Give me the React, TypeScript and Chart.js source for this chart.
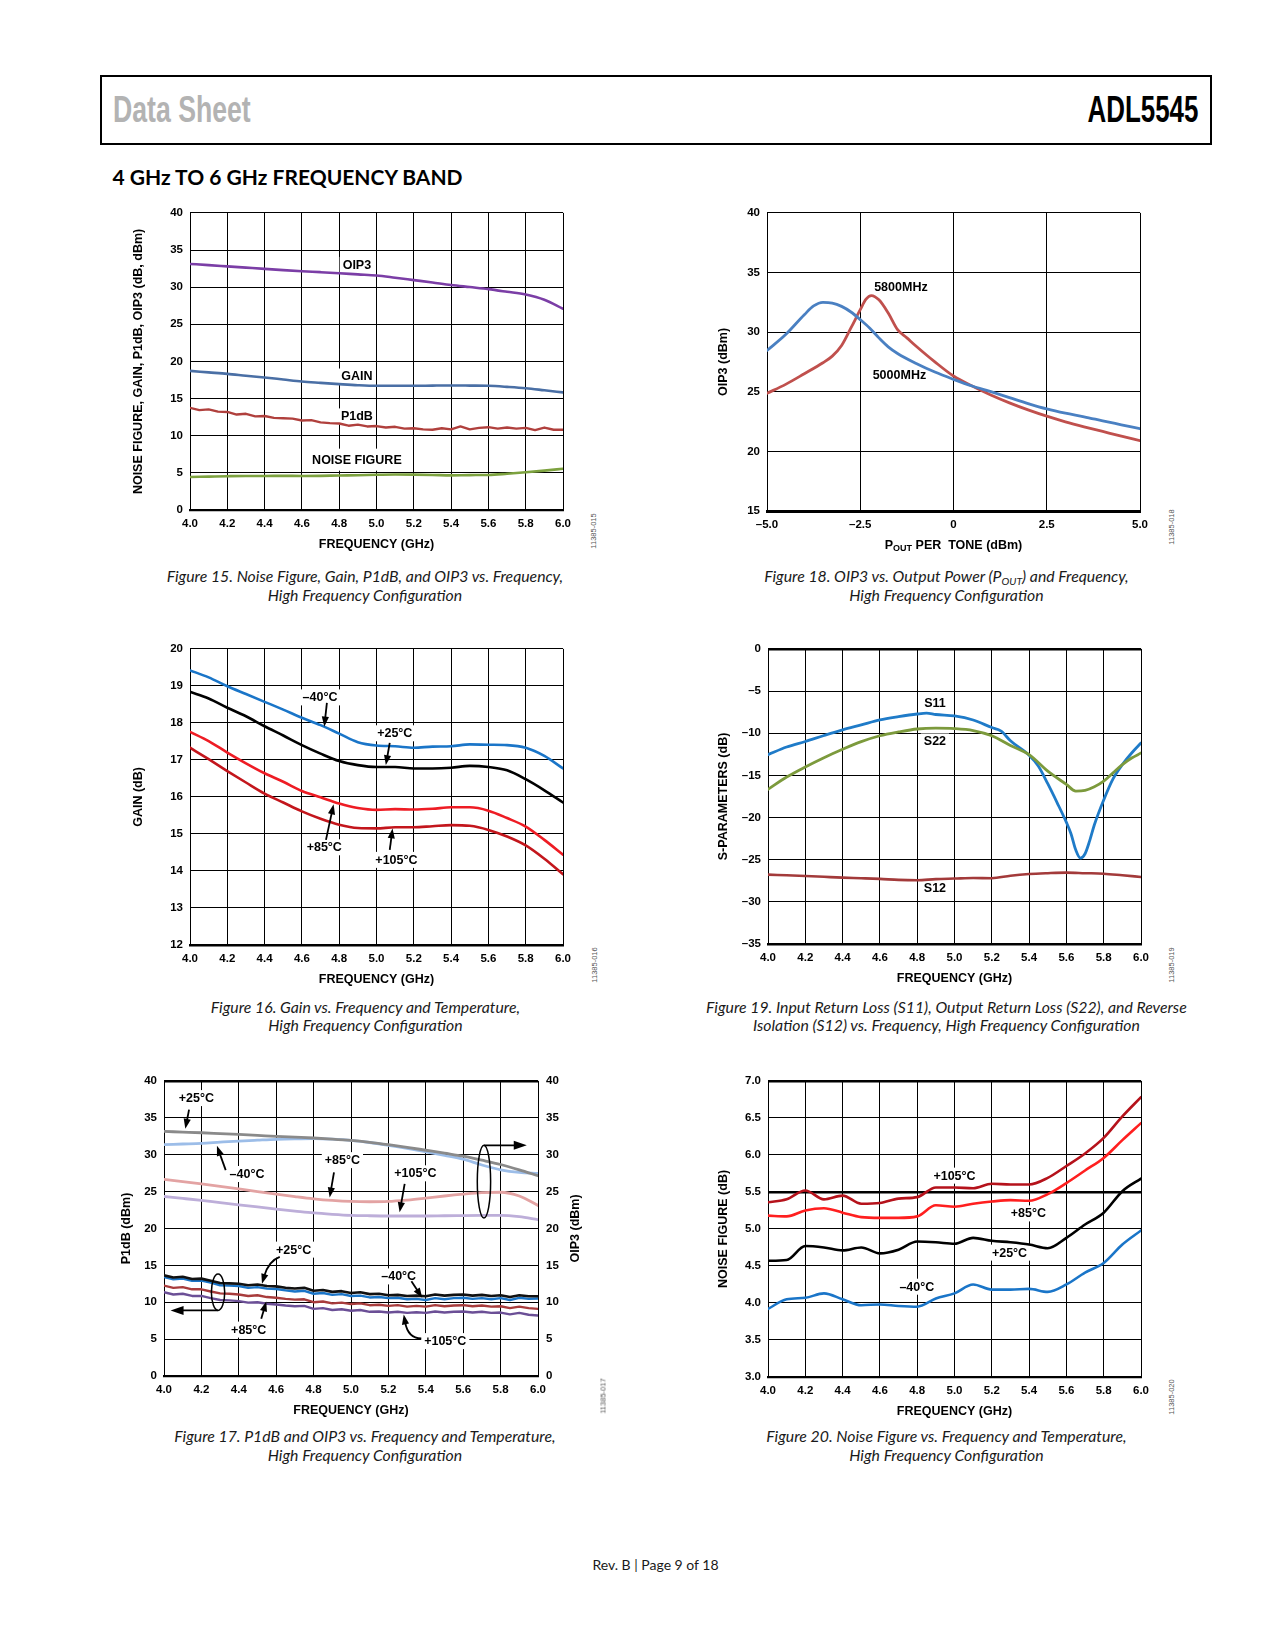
import React, { useEffect, useRef } from "react";
import { Chart, registerables } from "chart.js";

Chart.register(...registerables);

const SANS = '"Liberation Sans", Arial, Helvetica, sans-serif';
const MYRIAD = 'Lato, "Open Sans", sans-serif';
const NARROW = '"Liberation Sans Narrow", "Liberation Sans", sans-serif';

// ---------------- shared axis values ----------------
const FREQ_TICKS = [4.0, 4.2, 4.4, 4.6, 4.8, 5.0, 5.2, 5.4, 5.6, 5.8, 6.0];
const F21 = [4.0, 4.1, 4.2, 4.3, 4.4, 4.5, 4.6, 4.7, 4.8, 4.9, 5.0, 5.1, 5.2, 5.3, 5.4, 5.5, 5.6, 5.7, 5.8, 5.9, 6.0];
const F41 = [
  4.0, 4.05, 4.1, 4.15, 4.2, 4.25, 4.3, 4.35, 4.4, 4.45, 4.5, 4.55, 4.6, 4.65, 4.7, 4.75, 4.8, 4.85, 4.9, 4.95,
  5.0, 5.05, 5.1, 5.15, 5.2, 5.25, 5.3, 5.35, 5.4, 5.45, 5.5, 5.55, 5.6, 5.65, 5.7, 5.75, 5.8, 5.85, 5.9, 5.95, 6.0,
];

// ---------------- Figure 15 ----------------
const F15_Y_TICKS = [0, 5, 10, 15, 20, 25, 30, 35, 40];
const F15_OIP3 = [33.13, 32.97, 32.8, 32.63, 32.46, 32.3, 32.15, 32.02, 31.88, 31.72, 31.57, 31.27, 30.95, 30.63, 30.3, 30.02, 29.74, 29.38, 29.0, 28.3, 27.1];
const F15_GAIN = [18.73, 18.53, 18.33, 18.08, 17.84, 17.57, 17.3, 17.12, 16.95, 16.8, 16.72, 16.72, 16.72, 16.75, 16.77, 16.75, 16.72, 16.58, 16.4, 16.12, 15.83];
const F15_P1DB = [
  13.75, 13.45, 13.55, 13.25, 13.2, 12.85, 12.95, 12.6, 12.65, 12.4, 12.35, 12.3, 12.05, 12.1, 11.8, 11.7, 11.65, 11.35, 11.5, 11.25,
  11.3, 11.1, 11.2, 10.95, 11.0, 10.85, 10.8, 11.0, 10.85, 11.25, 10.85, 11.05, 11.15, 10.95, 11.1, 10.95, 11.05, 10.75, 11.1, 10.8, 10.8,
];
const F15_NF = [4.45, 4.5, 4.55, 4.58, 4.58, 4.6, 4.58, 4.6, 4.65, 4.68, 4.75, 4.78, 4.76, 4.72, 4.66, 4.7, 4.72, 4.88, 5.08, 5.3, 5.55];

// ---------------- Figure 18 ----------------
const F18_X_TICKS = [-5, -2.5, 0, 2.5, 5];
const F18_Y_TICKS = [15, 20, 25, 30, 35, 40];
const F18_X_5000 = [-5, -4.5, -4, -3.75, -3.5, -3.25, -3, -2.75, -2.5, -2.25, -2, -1.75, -1.5, -1, -0.5, 0, 0.5, 1, 1.5, 2, 2.5, 3, 3.5, 4, 4.5, 5];
const F18_OIP3_5000 = [28.46, 29.8, 31.46, 32.2, 32.5, 32.44, 32.16, 31.69, 31.05, 30.35, 29.52, 28.77, 28.21, 27.37, 26.65, 26.04, 25.48, 25.01, 24.51, 24.01, 23.56, 23.2, 22.9, 22.56, 22.23, 21.9];
const F18_X_5800 = [-5, -4.5, -4, -3.5, -3.25, -3, -2.75, -2.5, -2.35, -2.2, -2, -1.75, -1.5, -1.25, -1, -0.5, 0, 0.5, 1, 1.5, 2, 2.5, 3, 3.5, 4, 4.5, 5];
const F18_OIP3_5800 = [24.87, 25.62, 26.51, 27.43, 27.99, 28.88, 30.35, 31.88, 32.75, 33.07, 32.71, 31.6, 30.21, 29.52, 28.82, 27.51, 26.32, 25.48, 24.73, 24.07, 23.48, 22.95, 22.48, 22.06, 21.67, 21.28, 20.9];

// ---------------- Figure 16 ----------------
const F16_Y_TICKS = [12, 13, 14, 15, 16, 17, 18, 19, 20];
const F16_GAIN_M40 = [19.42, 19.23, 18.99, 18.78, 18.57, 18.36, 18.14, 17.94, 17.71, 17.48, 17.39, 17.37, 17.33, 17.36, 17.37, 17.42, 17.41, 17.4, 17.33, 17.11, 16.77];
const F16_GAIN_25 = [18.84, 18.66, 18.41, 18.18, 17.91, 17.66, 17.4, 17.17, 16.97, 16.86, 16.81, 16.81, 16.77, 16.77, 16.79, 16.84, 16.81, 16.72, 16.48, 16.18, 15.85];
const F16_GAIN_85 = [17.76, 17.51, 17.2, 16.91, 16.64, 16.41, 16.16, 15.99, 15.82, 15.7, 15.65, 15.67, 15.66, 15.68, 15.72, 15.72, 15.63, 15.43, 15.2, 14.84, 14.44];
const F16_GAIN_105 = [17.33, 17.02, 16.7, 16.39, 16.09, 15.85, 15.61, 15.41, 15.25, 15.16, 15.15, 15.18, 15.18, 15.21, 15.24, 15.22, 15.11, 14.93, 14.69, 14.33, 13.91];

// ---------------- Figure 19 ----------------
const F19_Y_TICKS = [-35, -30, -25, -20, -15, -10, -5, 0];
const F19_X_S11 = [4.0, 4.1, 4.2, 4.3, 4.4, 4.5, 4.6, 4.7, 4.8, 4.85, 4.9, 5.0, 5.1, 5.2, 5.25, 5.3, 5.4, 5.45, 5.5, 5.55, 5.6, 5.625, 5.65, 5.675, 5.7, 5.725, 5.75, 5.8, 5.85, 5.9, 5.95, 6.0];
const F19_S11 = [-12.54, -11.64, -10.98, -10.27, -9.6, -9.02, -8.43, -8.04, -7.72, -7.62, -7.78, -7.95, -8.43, -9.33, -9.75, -10.9, -12.62, -13.92, -15.99, -18.23, -20.58, -21.95, -23.83, -24.81, -24.3, -22.74, -20.85, -17.91, -15.41, -13.72, -12.35, -11.17];
const F19_X_S22 = [4.0, 4.1, 4.2, 4.3, 4.4, 4.5, 4.6, 4.7, 4.8, 4.9, 5.0, 5.1, 5.2, 5.3, 5.4, 5.5, 5.6, 5.65, 5.7, 5.75, 5.8, 5.85, 5.9, 5.95, 6.0];
const F19_S22 = [-16.66, -15.2, -14.0, -12.9, -11.9, -11.0, -10.3, -9.85, -9.5, -9.4, -9.45, -9.68, -10.3, -11.45, -12.54, -14.5, -16.07, -16.86, -16.78, -16.35, -15.68, -14.7, -13.72, -12.94, -12.35];
const F19_S12 = [-26.77, -26.85, -26.93, -27.03, -27.13, -27.2, -27.28, -27.4, -27.44, -27.3, -27.24, -27.18, -27.2, -26.9, -26.7, -26.6, -26.54, -26.6, -26.66, -26.85, -27.05];

// ---------------- Figure 17 ----------------
const F17_Y_TICKS = [0, 5, 10, 15, 20, 25, 30, 35, 40];
const F17_OIP3_25 = [33.15, 33.06, 32.97, 32.86, 32.75, 32.62, 32.48, 32.37, 32.26, 32.12, 31.94, 31.68, 31.36, 31.0, 30.6, 30.2, 29.79, 29.25, 28.67, 27.95, 27.15];
const F17_OIP3_M40 = [31.36, 31.45, 31.54, 31.7, 31.85, 31.97, 32.08, 32.14, 32.17, 32.1, 31.94, 31.65, 31.27, 30.85, 30.38, 29.9, 29.39, 28.6, 27.95, 27.6, 27.47];
const F17_OIP3_85 = [26.66, 26.35, 26.03, 25.7, 25.36, 25.0, 24.65, 24.32, 24.02, 23.8, 23.66, 23.62, 23.66, 23.85, 24.11, 24.4, 24.65, 24.85, 24.91, 24.4, 23.12];
const F17_OIP3_105 = [24.33, 24.07, 23.8, 23.5, 23.21, 22.92, 22.63, 22.36, 22.1, 21.92, 21.78, 21.72, 21.69, 21.69, 21.69, 21.72, 21.74, 21.76, 21.78, 21.6, 21.2];
const F17_P1DB_25 = [
  13.65, 13.35, 13.45, 13.15, 13.2, 12.9, 12.6, 12.55, 12.5, 12.3, 12.4, 12.2, 12.15, 11.95, 11.85, 11.95, 11.55, 11.65, 11.4, 11.5,
  11.25, 11.35, 11.1, 11.15, 10.95, 11.0, 10.85, 10.9, 10.8, 11.05, 10.9, 11.0, 11.05, 10.9, 11.0, 10.85, 10.95, 10.7, 10.95, 10.8, 10.8,
];
const F17_P1DB_M40 = [
  13.4, 13.1, 13.2, 12.9, 12.95, 12.65, 12.3, 12.25, 12.2, 11.95, 12.05, 11.85, 11.8, 11.6, 11.45, 11.55, 11.15, 11.25, 11.0, 11.1,
  10.85, 10.9, 10.65, 10.7, 10.55, 10.6, 10.4, 10.45, 10.3, 10.55, 10.4, 10.55, 10.6, 10.45, 10.55, 10.4, 10.55, 10.3, 10.6, 10.45, 10.5,
];
const F17_P1DB_85 = [
  12.25, 11.95, 12.05, 11.75, 11.75, 11.45, 11.2, 11.15, 11.05, 10.85, 10.95, 10.7, 10.6, 10.45, 10.35, 10.4, 10.0, 10.1, 9.85, 9.95,
  9.75, 9.85, 9.6, 9.65, 9.5, 9.6, 9.4, 9.5, 9.4, 9.6, 9.45, 9.55, 9.6, 9.45, 9.55, 9.4, 9.45, 9.2, 9.4, 9.2, 9.1,
];
const F17_P1DB_105 = [
  11.35, 11.05, 11.15, 10.85, 10.85, 10.55, 10.3, 10.25, 10.15, 9.95, 10.0, 9.8, 9.7, 9.55, 9.45, 9.5, 9.1, 9.2, 8.95, 9.05,
  8.85, 8.95, 8.7, 8.75, 8.6, 8.7, 8.55, 8.65, 8.55, 8.75, 8.6, 8.7, 8.75, 8.6, 8.7, 8.55, 8.6, 8.35, 8.55, 8.3, 8.2,
];

// ---------------- Figure 20 ----------------
const F20_Y_TICKS = [3.0, 3.5, 4.0, 4.5, 5.0, 5.5, 6.0, 6.5, 7.0];
const F20_NF_105 = [5.36, 5.4, 5.52, 5.4, 5.45, 5.34, 5.35, 5.41, 5.43, 5.56, 5.56, 5.55, 5.61, 5.6, 5.6, 5.69, 5.85, 6.02, 6.23, 6.52, 6.78];
const F20_NF_85 = [5.18, 5.17, 5.25, 5.28, 5.22, 5.16, 5.15, 5.15, 5.17, 5.32, 5.3, 5.34, 5.37, 5.39, 5.38, 5.47, 5.62, 5.79, 5.96, 6.2, 6.43];
const F20_NF_25 = [4.57, 4.58, 4.77, 4.75, 4.71, 4.75, 4.67, 4.72, 4.83, 4.82, 4.8, 4.88, 4.84, 4.82, 4.79, 4.74, 4.88, 5.06, 5.22, 5.51, 5.68];
const F20_NF_M40 = [3.92, 4.05, 4.07, 4.13, 4.05, 3.97, 3.98, 3.96, 3.95, 4.06, 4.13, 4.25, 4.18, 4.18, 4.19, 4.15, 4.25, 4.41, 4.54, 4.79, 4.98];

// ---------------- helpers ----------------
const TICK_SIZE = 11.5;
const LABEL_SIZE = 12.5;

const fmt1 = (v: number) => v.toFixed(1);
const fmtInt = (v: number) => (v < 0 ? "\u2013" + Math.abs(v) : String(v));
const fmtDash1 = (v: number) => (v === 0 ? "0" : (v < 0 ? "\u2013" : "") + Math.abs(v).toFixed(1));

function line(xs: number[], ys: number[], color: string, width = 2.6, smooth = true) {
  return {
    data: xs.map((x, i) => ({ x, y: ys[i] })),
    borderColor: color,
    backgroundColor: color,
    borderWidth: width,
    pointRadius: 0,
    fill: false,
    tension: 0,
    cubicInterpolationMode: smooth ? "monotone" : "default",
    borderJoinStyle: "round",
    borderCapStyle: "round",
  };
}

type Note = { x: number; y: number; t: string; px?: number; py?: number };
type Arrow = { x1: number; y1: number; x2: number; y2: number; cx?: number; cy?: number; big?: boolean };
type Ell = { x: number; y: number; dx: number; dy: number };
type AxisSpec = { min: number; max: number; ticks: number[]; fmt: (v: number) => string; thick?: number[] };

type Spec = {
  left: number;
  top: number;
  w: number;
  h: number;
  R?: number;
  x: AxisSpec;
  y: AxisSpec;
  y2?: boolean;
  xBorder: number;
  xTitle?: string;
  yTitle: string;
  yTitleX: number;
  datasets: any[];
  notes?: Note[];
  arrows?: Arrow[];
  ellipses?: Ell[];
  extraDraw?: (chart: any, spec: Spec) => void;
};

const L = 80;
const T = 12;
const B = 48;

function drawArrow(ctx: CanvasRenderingContext2D, x1: number, y1: number, x2: number, y2: number, cx?: number, cy?: number, big?: boolean) {
  const hl = big ? 13 : 10;
  const hw = big ? 4.5 : 3.6;
  const fx = cx ?? x1;
  const fy = cy ?? y1;
  const ang = Math.atan2(y2 - fy, x2 - fx);
  const ux = Math.cos(ang);
  const uy = Math.sin(ang);
  const bx = x2 - ux * hl;
  const by = y2 - uy * hl;
  ctx.beginPath();
  ctx.moveTo(x1, y1);
  if (cx !== undefined && cy !== undefined) ctx.quadraticCurveTo(cx, cy, bx + ux * 2, by + uy * 2);
  else ctx.lineTo(bx + ux * 2, by + uy * 2);
  ctx.stroke();
  ctx.beginPath();
  ctx.moveTo(x2, y2);
  ctx.lineTo(bx - uy * hw, by + ux * hw);
  ctx.lineTo(bx + uy * hw, by - ux * hw);
  ctx.closePath();
  ctx.fill();
}

function makeNotesPlugin(spec: Spec) {
  return {
    id: "notes",
    beforeDatasetsDraw(chart: any) {
      const ctx = chart.ctx as CanvasRenderingContext2D;
      const xs = chart.scales.x;
      const ys = chart.scales.y;
      ctx.save();
      ctx.font = `bold ${LABEL_SIZE}px ${SANS}`;
      ctx.fillStyle = "#fff";
      for (const n of spec.notes || []) {
        const w = ctx.measureText(n.t).width;
        const px = xs.getPixelForValue(n.x);
        const py = ys.getPixelForValue(n.y);
        const padX = n.px ?? 3;
        const padY = n.py ?? 8;
        ctx.fillRect(px - w / 2 - padX, py - padY, w + 2 * padX, 2 * padY);
      }
      ctx.restore();
    },
    afterDatasetsDraw(chart: any) {
      const ctx = chart.ctx as CanvasRenderingContext2D;
      const xs = chart.scales.x;
      const ys = chart.scales.y;
      const X = (v: number) => xs.getPixelForValue(v);
      const Y = (v: number) => ys.getPixelForValue(v);
      ctx.save();
      ctx.font = `bold ${LABEL_SIZE}px ${SANS}`;
      ctx.fillStyle = "#000";
      ctx.textAlign = "center";
      ctx.textBaseline = "middle";
      for (const n of spec.notes || []) ctx.fillText(n.t, X(n.x), Y(n.y) + 0.5);
      ctx.strokeStyle = "#000";
      ctx.lineWidth = 1.5;
      for (const e of spec.ellipses || []) {
        const cx = X(e.x);
        const cy = Y(e.y);
        const rx = Math.abs(X(e.x + e.dx) - cx);
        const ry = Math.abs(Y(e.y + e.dy) - cy);
        ctx.beginPath();
        ctx.ellipse(cx, cy, rx, ry, 0, 0, Math.PI * 2);
        ctx.stroke();
      }
      ctx.lineWidth = 1.8;
      for (const a of spec.arrows || []) {
        drawArrow(
          ctx,
          X(a.x1),
          Y(a.y1),
          X(a.x2),
          Y(a.y2),
          a.cx !== undefined ? X(a.cx) : undefined,
          a.cy !== undefined ? Y(a.cy) : undefined,
          a.big
        );
      }
      ctx.restore();
    },
    afterDraw(chart: any) {
      if (spec.extraDraw) spec.extraDraw(chart, spec);
    },
  };
}

function axisFont(size: number) {
  return { family: SANS, size, weight: "bold" as const };
}

function buildConfig(spec: Spec) {
  const R = spec.R ?? 14;
  const cl = spec.left - L;
  const scales: any = {
    x: {
      type: "linear",
      min: spec.x.min,
      max: spec.x.max,
      afterBuildTicks: (s: any) => {
        s.ticks = spec.x.ticks.map((v) => ({ value: v }));
      },
      afterFit: (s: any) => {
        s.height = B;
      },
      ticks: {
        autoSkip: false,
        maxRotation: 0,
        minRotation: 0,
        padding: 7,
        color: "#000",
        font: axisFont(TICK_SIZE),
        callback: (v: any) => spec.x.fmt(Number(v)),
      },
      grid: { color: "#000", lineWidth: 1, drawTicks: false },
      border: { color: "#000", width: spec.xBorder },
      title: {
        display: !!spec.xTitle,
        text: spec.xTitle || "",
        color: "#000",
        font: axisFont(LABEL_SIZE),
        padding: { top: 0, bottom: B - 34.3 - LABEL_SIZE * 0.6 },
      },
    },
    y: {
      type: "linear",
      position: "left",
      min: spec.y.min,
      max: spec.y.max,
      afterBuildTicks: (s: any) => {
        s.ticks = spec.y.ticks.map((v) => ({ value: v }));
      },
      afterFit: (s: any) => {
        s.width = L;
      },
      ticks: {
        autoSkip: false,
        padding: 7,
        color: "#000",
        font: axisFont(TICK_SIZE),
        callback: (v: any) => spec.y.fmt(Number(v)),
      },
      grid: {
        color: "#000",
        drawTicks: false,
        lineWidth: (ctx: any) => ((spec.y.thick || []).some((t) => Math.abs(t - ctx.tick?.value) < 1e-9) ? 2.6 : 1),
      },
      border: { color: "#000", width: 1 },
      title: {
        display: true,
        text: spec.yTitle,
        color: "#000",
        font: axisFont(LABEL_SIZE),
        padding: { top: spec.yTitleX - cl - LABEL_SIZE * 0.6, bottom: 0 },
      },
    },
  };
  if (spec.y2) {
    scales.y2 = {
      type: "linear",
      position: "right",
      min: spec.y.min,
      max: spec.y.max,
      afterBuildTicks: (s: any) => {
        s.ticks = spec.y.ticks.map((v) => ({ value: v }));
      },
      afterFit: (s: any) => {
        s.width = R;
      },
      ticks: {
        autoSkip: false,
        padding: 8,
        color: "#000",
        font: axisFont(TICK_SIZE),
        callback: (v: any) => spec.y.fmt(Number(v)),
      },
      grid: { drawOnChartArea: false, drawTicks: false },
      border: { display: false },
    };
  }
  return {
    type: "line",
    data: { datasets: spec.datasets },
    options: {
      animation: false,
      responsive: false,
      maintainAspectRatio: false,
      devicePixelRatio: 1,
      events: [],
      parsing: true,
      layout: { padding: { left: 0, top: T, right: spec.y2 ? 0 : R, bottom: 0 } },
      plugins: { legend: { display: false }, tooltip: { enabled: false }, title: { display: false } },
      scales,
    },
    plugins: [makeNotesPlugin(spec)],
  };
}

function PlotCanvas({ spec }: { spec: Spec }) {
  const ref = useRef<HTMLCanvasElement | null>(null);
  const R = spec.R ?? 14;
  const cl = spec.left - L;
  const ct = spec.top - T;
  const cw = L + spec.w + R;
  const ch = T + spec.h + B;
  useEffect(() => {
    if (!ref.current) return;
    const chart = new Chart(ref.current, buildConfig(spec) as any);
    return () => chart.destroy();
  }, []);
  return (
    <canvas
      ref={ref}
      width={cw}
      height={ch}
      style={{ position: "absolute", left: cl, top: ct, width: cw, height: ch }}
    />
  );
}

// ---------------- chart specs ----------------
const freqX: AxisSpec = { min: 4.0, max: 6.0, ticks: FREQ_TICKS, fmt: fmt1 };

const fig15: Spec = {
  left: 190,
  top: 211,
  w: 374,
  h: 299,
  x: freqX,
  y: { min: 0, max: 40, ticks: F15_Y_TICKS, fmt: fmtInt },
  xBorder: 2.2,
  xTitle: "FREQUENCY (GHz)",
  yTitle: "NOISE FIGURE, GAIN, P1dB, OIP3 (dB, dBm)",
  yTitleX: 138.3,
  datasets: [
    line(F21, F15_NF, "#7da23f", 2.6),
    line(F41, F15_P1DB, "#b0403d", 2.4, false),
    line(F21, F15_GAIN, "#4a6fa5", 2.6),
    line(F21, F15_OIP3, "#7b3ea6", 2.6),
  ],
  notes: [
    { x: 4.895, y: 33.0, t: "OIP3" },
    { x: 4.895, y: 17.97, t: "GAIN" },
    { x: 4.895, y: 12.6, t: "P1dB" },
    { x: 4.895, y: 6.78, t: "NOISE FIGURE", px: 5, py: 11 },
  ],
};

const fig18: Spec = {
  left: 767,
  top: 211,
  w: 374,
  h: 300,
  x: { min: -5, max: 5, ticks: F18_X_TICKS, fmt: fmtDash1 },
  y: { min: 15, max: 40, ticks: F18_Y_TICKS, fmt: fmtInt },
  xBorder: 3,
  yTitle: "OIP3 (dBm)",
  yTitleX: 723.3,
  datasets: [line(F18_X_5000, F18_OIP3_5000, "#4a80c2", 2.8), line(F18_X_5800, F18_OIP3_5800, "#c0504d", 2.8)],
  notes: [
    { x: -1.41, y: 33.77, t: "5800MHz" },
    { x: -1.45, y: 26.37, t: "5000MHz" },
  ],
  extraDraw: (chart: any) => {
    const ctx = chart.ctx as CanvasRenderingContext2D;
    const area = chart.chartArea;
    const cy = area.bottom + 34.5;
    const cx = (area.left + area.right) / 2;
    const big = `bold ${LABEL_SIZE}px ${SANS}`;
    const small = `bold 9px ${SANS}`;
    ctx.save();
    ctx.fillStyle = "#000";
    ctx.textBaseline = "middle";
    ctx.textAlign = "left";
    ctx.font = big;
    const wP = ctx.measureText("P").width;
    const rest = " PER  TONE (dBm)";
    const wR = ctx.measureText(rest).width;
    ctx.font = small;
    const wO = ctx.measureText("OUT").width;
    let x = cx - (wP + wO + wR) / 2;
    ctx.font = big;
    ctx.fillText("P", x, cy);
    x += wP;
    ctx.font = small;
    ctx.fillText("OUT", x, cy + 3.5);
    x += wO;
    ctx.font = big;
    ctx.fillText(rest, x, cy);
    ctx.restore();
  },
};

const fig16: Spec = {
  left: 190,
  top: 647,
  w: 374,
  h: 298,
  x: freqX,
  y: { min: 12, max: 20, ticks: F16_Y_TICKS, fmt: fmtInt },
  xBorder: 2.6,
  xTitle: "FREQUENCY (GHz)",
  yTitle: "GAIN (dB)",
  yTitleX: 138.8,
  datasets: [
    line(F21, F16_GAIN_105, "#c3161c", 2.6),
    line(F21, F16_GAIN_85, "#ee1c24", 2.6),
    line(F21, F16_GAIN_25, "#000000", 2.6),
    line(F21, F16_GAIN_M40, "#1a75c8", 2.6),
  ],
  notes: [
    { x: 4.697, y: 18.69, t: "\u201340\u00b0C" },
    { x: 5.098, y: 17.72, t: "+25\u00b0C" },
    { x: 4.72, y: 14.64, t: "+85\u00b0C" },
    { x: 5.107, y: 14.3, t: "+105\u00b0C" },
  ],
  arrows: [
    { x1: 4.734, y1: 18.54, x2: 4.72, y2: 17.9 },
    { x1: 5.071, y1: 17.46, x2: 5.05, y2: 16.86 },
    { x1: 4.729, y1: 14.84, x2: 4.77, y2: 15.8 },
    { x1: 5.071, y1: 14.57, x2: 5.086, y2: 15.15 },
  ],
};

const fig19: Spec = {
  left: 768,
  top: 647,
  w: 374,
  h: 297,
  x: freqX,
  y: { min: -35, max: 0, ticks: F19_Y_TICKS, fmt: fmtInt, thick: [0] },
  xBorder: 2.6,
  xTitle: "FREQUENCY (GHz)",
  yTitle: "S-PARAMETERS (dB)",
  yTitleX: 723.4,
  datasets: [
    line(F21, F19_S12, "#a33a3a", 2.6),
    line(F19_X_S22, F19_S22, "#7c9a3c", 2.8),
    line(F19_X_S11, F19_S11, "#1f7bc8", 2.8),
  ],
  notes: [
    { x: 4.895, y: -6.43, t: "S11" },
    { x: 4.895, y: -10.98, t: "S22" },
    { x: 4.895, y: -28.42, t: "S12" },
  ],
};

const fig17: Spec = {
  left: 164,
  top: 1078,
  w: 374,
  h: 298,
  R: 70,
  x: freqX,
  y: { min: 0, max: 40, ticks: F17_Y_TICKS, fmt: fmtInt, thick: [40] },
  y2: true,
  xBorder: 2.2,
  xTitle: "FREQUENCY (GHz)",
  yTitle: "P1dB (dBm)",
  yTitleX: 126.7,
  datasets: [
    line(F21, F17_OIP3_105, "#bdaed9", 2.8),
    line(F21, F17_OIP3_85, "#e3a3a3", 2.8),
    line(F21, F17_OIP3_25, "#8a8a8a", 2.8),
    line(F21, F17_OIP3_M40, "#9cbde8", 2.8),
    line(F41, F17_P1DB_105, "#6b4f96", 2.4, false),
    line(F41, F17_P1DB_85, "#a83c3c", 2.4, false),
    line(F41, F17_P1DB_25, "#111111", 2.6, false),
    line(F41, F17_P1DB_M40, "#1a75c8", 2.4, false),
  ],
  notes: [
    { x: 4.173, y: 37.67, t: "+25\u00b0C" },
    { x: 4.444, y: 27.38, t: "\u201340\u00b0C" },
    { x: 4.954, y: 29.26, t: "+85\u00b0C" },
    { x: 5.344, y: 27.47, t: "+105\u00b0C" },
    { x: 4.693, y: 17.13, t: "+25\u00b0C" },
    { x: 5.255, y: 13.5, t: "\u201340\u00b0C" },
    { x: 4.453, y: 6.29, t: "+85\u00b0C" },
    { x: 5.504, y: 4.73, t: "+105\u00b0C" },
  ],
  arrows: [
    { x1: 4.134, y1: 36.1, x2: 4.114, y2: 33.5 },
    { x1: 4.33, y1: 27.91, x2: 4.283, y2: 31.2 },
    { x1: 4.909, y1: 27.6, x2: 4.886, y2: 24.2 },
    { x1: 5.287, y1: 26.03, x2: 5.26, y2: 22.2 },
    { x1: 4.619, y1: 16.14, x2: 4.524, y2: 12.5, cx: 4.56, cy: 15.6 },
    { x1: 5.323, y1: 12.83, x2: 5.381, y2: 10.6 },
    { x1: 4.52, y1: 7.77, x2: 4.547, y2: 10.1 },
    { x1: 5.376, y1: 5.09, x2: 5.282, y2: 8.35, cx: 5.305, cy: 5.09 },
    { x1: 5.711, y1: 31.27, x2: 5.94, y2: 31.27, big: true },
    { x1: 4.289, y1: 8.89, x2: 4.035, y2: 8.89, big: true },
  ],
  ellipses: [
    { x: 5.711, y: 26.35, dx: 0.0356, dy: 4.92 },
    { x: 4.289, y: 11.35, dx: 0.0356, dy: 2.46 },
  ],
  extraDraw: (chart: any, spec: Spec) => {
    const ctx = chart.ctx as CanvasRenderingContext2D;
    const area = chart.chartArea;
    ctx.save();
    ctx.fillStyle = "#000";
    ctx.font = `bold ${LABEL_SIZE}px ${SANS}`;
    ctx.textAlign = "center";
    ctx.textBaseline = "middle";
    ctx.translate(576 - (spec.left - L), (area.top + area.bottom) / 2);
    ctx.rotate(-Math.PI / 2);
    ctx.fillText("OIP3 (dBm)", 0, 0);
    ctx.restore();
  },
};

const fig20: Spec = {
  left: 768,
  top: 1079,
  w: 374,
  h: 298,
  x: freqX,
  y: { min: 3, max: 7, ticks: F20_Y_TICKS, fmt: fmt1, thick: [7.0, 5.5] },
  xBorder: 2.2,
  xTitle: "FREQUENCY (GHz)",
  yTitle: "NOISE FIGURE (dB)",
  yTitleX: 723.4,
  datasets: [
    line(F21, F20_NF_M40, "#1a75c8", 2.6),
    line(F21, F20_NF_25, "#000000", 2.6),
    line(F21, F20_NF_85, "#ff1f1f", 2.6),
    line(F21, F20_NF_105, "#b5121b", 2.6),
  ],
  notes: [
    { x: 5.0, y: 5.72, t: "+105\u00b0C" },
    { x: 5.396, y: 5.21, t: "+85\u00b0C" },
    { x: 5.295, y: 4.68, t: "+25\u00b0C" },
    { x: 4.798, y: 4.22, t: "\u201340\u00b0C" },
  ],
};

// ---------------- page text ----------------
const CAP_SIZE = 15.8;
const CAP_LH = 18.9;

function Caption({ cx, cy, children }: { cx: number; cy: number; children: React.ReactNode }) {
  return (
    <div
      style={{
        position: "absolute",
        left: cx - 350,
        width: 700,
        top: cy - CAP_LH / 2,
        textAlign: "center",
        fontFamily: MYRIAD,
        fontStyle: "italic",
        fontSize: CAP_SIZE,
        lineHeight: `${CAP_LH}px`,
        color: "#1a1a1a",
        whiteSpace: "nowrap",
      }}
    >
      {children}
    </div>
  );
}

function SideId({ x, y, text }: { x: number; y: number; text: string }) {
  return (
    <div
      style={{
        position: "absolute",
        left: x,
        top: y,
        transform: "translate(-50%, -50%) rotate(-90deg)",
        fontFamily: SANS,
        fontSize: 7.5,
        color: "#555",
        whiteSpace: "nowrap",
        lineHeight: "9px",
      }}
    >
      {text}
    </div>
  );
}

const Sub = ({ children }: { children: React.ReactNode }) => (
  <span style={{ fontSize: "0.66em", position: "relative", top: "0.3em", lineHeight: 0, fontStyle: "italic" }}>
    {children}
  </span>
);

export default function App() {
  return (
    <div
      style={{
        position: "absolute",
        left: 0,
        top: 0,
        width: 1275,
        height: 1650,
        background: "#fff",
        overflow: "hidden",
      }}
    >
      {/* header box */}
      <div
        style={{
          position: "absolute",
          left: 100,
          top: 74.7,
          width: 1112,
          height: 70.3,
          border: "2px solid #000",
          boxSizing: "border-box",
        }}
      />
      <div
        style={{
          position: "absolute",
          left: 112.5,
          top: 90,
          height: 40,
          lineHeight: "40px",
          fontFamily: NARROW,
          fontWeight: "bold",
          fontSize: 37,
          color: "#b3b3b3",
          transform: "scaleX(0.72)",
          transformOrigin: "left center",
          whiteSpace: "nowrap",
        }}
      >
        Data Sheet
      </div>
      <div
        style={{
          position: "absolute",
          right: 1275 - 1198.7,
          top: 90,
          height: 40,
          lineHeight: "40px",
          fontFamily: NARROW,
          fontWeight: "bold",
          fontSize: 37,
          color: "#000",
          transform: "scaleX(0.70)",
          transformOrigin: "right center",
          whiteSpace: "nowrap",
        }}
      >
        ADL5545
      </div>
      <div
        style={{
          position: "absolute",
          left: 112.5,
          top: 176.7 - 13,
          lineHeight: "26px",
          fontFamily: MYRIAD,
          fontWeight: "bold",
          fontSize: 21,
          color: "#000",
          whiteSpace: "nowrap",
        }}
      >
        4 GHz TO 6 GHz FREQUENCY BAND
      </div>

      <PlotCanvas spec={fig15} />
      <PlotCanvas spec={fig18} />
      <PlotCanvas spec={fig16} />
      <PlotCanvas spec={fig19} />
      <PlotCanvas spec={fig17} />
      <PlotCanvas spec={fig20} />

      <SideId x={592.7} y={531} text="11385-015" />
      <SideId x={1171.4} y={527} text="11385-018" />
      <SideId x={594} y={965} text="11385-016" />
      <SideId x={1171.4} y={965} text="11385-019" />
      <SideId x={602.5} y={1396} text="11385-017" />
      <SideId x={1171.4} y={1396.7} text="11385-020" />

      <Caption cx={364.9} cy={576.2}>
        Figure 15. Noise Figure, Gain, P1dB, and OIP3 vs. Frequency,
        <br />
        High Frequency Configuration
      </Caption>
      <Caption cx={946.4} cy={576.2}>
        Figure 18. OIP3 vs. Output Power (P<Sub>OUT</Sub>) and Frequency,
        <br />
        High Frequency Configuration
      </Caption>
      <Caption cx={365.4} cy={1007}>
        Figure 16. Gain vs. Frequency and Temperature,
        <br />
        High Frequency Configuration
      </Caption>
      <Caption cx={946.4} cy={1007}>
        Figure 19. Input Return Loss (S11), Output Return Loss (S22), and Reverse
        <br />
        Isolation (S12) vs. Frequency, High Frequency Configuration
      </Caption>
      <Caption cx={364.9} cy={1436.3}>
        Figure 17. P1dB and OIP3 vs. Frequency and Temperature,
        <br />
        High Frequency Configuration
      </Caption>
      <Caption cx={946.4} cy={1436.3}>
        Figure 20. Noise Figure vs. Frequency and Temperature,
        <br />
        High Frequency Configuration
      </Caption>

      <div
        style={{
          position: "absolute",
          left: 655.5 - 200,
          width: 400,
          top: 1565 - 9,
          lineHeight: "18px",
          textAlign: "center",
          fontFamily: MYRIAD,
          fontSize: 14,
          color: "#1a1a1a",
        }}
      >
        Rev. B | Page 9 of 18
      </div>
    </div>
  );
}
